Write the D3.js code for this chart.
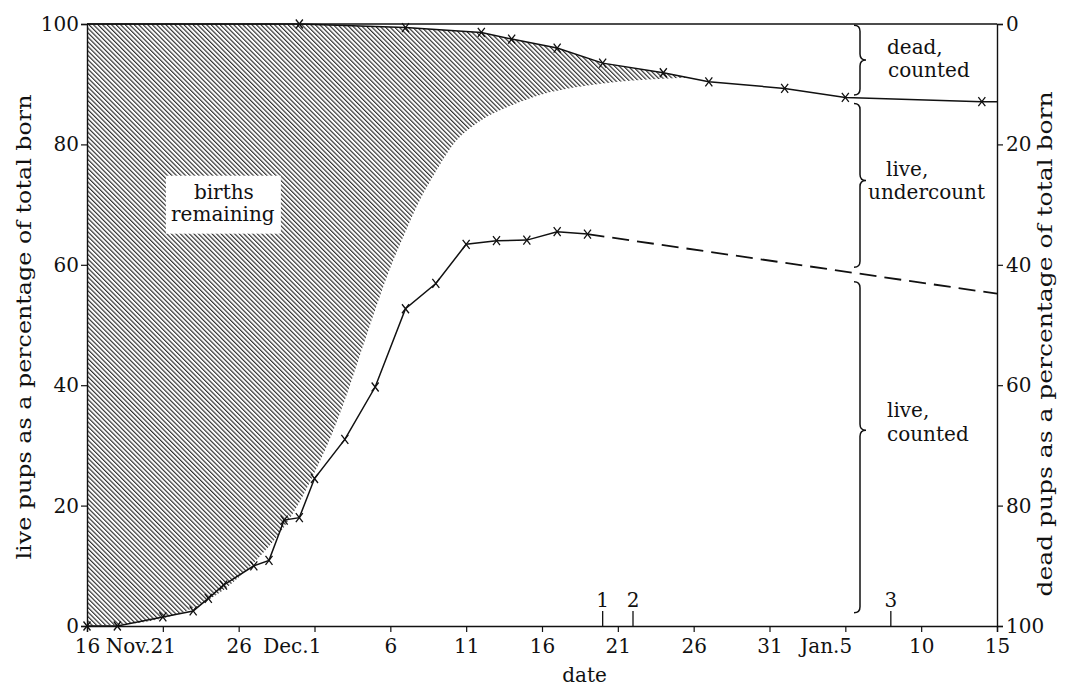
<!DOCTYPE html>
<html>
<head>
<meta charset="utf-8">
<script src="https://cdn.jsdelivr.net/npm/d3@7"></script>
<style>
  body { margin: 0; background: #fff; }
  svg { display: block; }
  text { font-family: "DejaVu Serif", serif; fill: #111; }
</style>
</head>
<body>
<svg id="svg"></svg>
<script>
// Data (days counted from Nov. 16)
const tickDays = [0, 5, 10, 15, 20, 25, 30, 35, 40, 45, 50, 55, 60];
const tickLabels = ["16", "Nov.21", "26", "Dec.1", "6", "11", "16", "21", "26", "31", "Jan.5", "10", "15"];
const yTicks = [0, 20, 40, 60, 80, 100];

// live pups counted (% of total born)
const liveDays = [0, 2, 5, 7, 8, 9, 11, 12, 13, 14, 15, 17, 19, 21, 23, 25, 27, 29, 31, 33];
const liveValues = [0, 0, 1.5, 2.5, 4.6, 6.8, 10, 10.9, 17.6, 18, 24.5, 31, 39.7, 52.7, 56.9, 63.4, 64, 64.1, 65.5, 65.1];

// extrapolated live pups (dashed)
const dashDays = [33, 60];
const dashValues = [65.1, 55.2];

// dead pups counted (% of total born, right axis)
const deadDays = [0, 14, 21, 26, 28, 31, 34, 38, 41, 46, 50, 59, 60];
const deadValues = [0, 0, 0.6, 1.4, 2.5, 4.0, 6.5, 8.1, 9.6, 10.7, 12.2, 12.9, 12.9];

// cumulative births (% of total born), edge of hatched area
const birthDays = [0, 3, 5, 7, 9, 11, 13, 14, 15, 16, 17, 18, 19, 20, 21, 22, 23, 24, 26, 28, 30, 32, 34, 36, 38, 40, 42];
const birthValues = [0, 0.4, 1.3, 3, 6, 10.5, 16.5, 20.5, 25.5, 31, 37.5, 45, 52.5, 59.5, 65.5, 71, 75.5, 79.5, 84, 86.5, 88.3, 89.4, 90.1, 90.6, 90.9, 91.1, 91.3];

// census markers
const markerDays = [34, 36, 53];
const markerLabels = ["1", "2", "3"];

// right-hand brackets
const braceLabels = [["dead,", "counted"], ["live,", "undercount"], ["live,", "counted"]];

const width = 1065, height = 689;
const margin = { left: 87, right: 68, top: 24, bottom: 63 };
const FONT = "DejaVu Serif";

const svg = d3.select("#svg").attr("width", width).attr("height", height);

const x = d3.scaleLinear().domain([0, 60]).range([margin.left, width - margin.right]);
const y = d3.scaleLinear().domain([0, 100]).range([height - margin.bottom, margin.top]);
const yDead = d3.scaleLinear().domain([0, 100]).range([margin.top, height - margin.bottom]);

const live = liveDays.map((d, i) => ({ d: d, v: liveValues[i] }));
const dash = dashDays.map((d, i) => ({ d: d, v: dashValues[i] }));
const dead = deadDays.map((d, i) => ({ d: d, v: 100 - deadValues[i] }));
const births = birthDays.map((d, i) => ({ d: d, v: birthValues[i] }));

function label(sel) {
    return sel.attr("font-family", FONT).attr("font-size", 20).attr("fill", "#111");
}

// hatch pattern
const defs = svg.append("defs");
defs.append("pattern")
    .attr("id", "hatch")
    .attr("patternUnits", "userSpaceOnUse")
    .attr("width", 3.2)
    .attr("height", 10)
    .attr("patternTransform", "rotate(-45)")
    .append("line")
    .attr("x1", 0.6).attr("y1", 0).attr("x2", 0.6).attr("y2", 10)
    .attr("stroke", "#222").attr("stroke-width", 1.1);

// clip: everything above the births curve
defs.append("clipPath").attr("id", "aboveBirths")
    .append("path")
    .attr("d", d3.area()
        .x(p => x(p.d))
        .y0(p => y(p.v))
        .y1(y(100) - 5)
        .curve(d3.curveMonotoneX)(births));

svg.append("path")
    .attr("d", d3.area()
        .x(p => x(p.d))
        .y0(y(0))
        .y1(p => y(p.v))(dead))
    .attr("fill", "url(#hatch)")
    .attr("clip-path", "url(#aboveBirths)");

// label box inside hatching
const labelBox = svg.append("g");
labelBox.append("rect")
    .attr("x", x(5.2)).attr("y", y(74.8))
    .attr("width", 115).attr("height", 58)
    .attr("fill", "#fff");
label(labelBox.append("text"))
    .attr("x", x(5.2) + 58).attr("y", y(71))
    .attr("text-anchor", "middle")
    .text("births");
label(labelBox.append("text"))
    .attr("x", x(5.2) + 57).attr("y", y(67.2))
    .attr("text-anchor", "middle")
    .text("remaining");

// frame: top line
svg.append("line")
    .attr("x1", x(0)).attr("x2", x(60))
    .attr("y1", y(100)).attr("y2", y(100))
    .attr("stroke", "#111").attr("stroke-width", 1.3);

// axes
const xAxis = d3.axisBottom(x)
    .tickValues(tickDays)
    .tickSize(6)
    .tickPadding(7)
    .tickFormat((d, i) => tickLabels[i]);

const gx = svg.append("g")
    .attr("transform", `translate(0,${y(0)})`)
    .call(xAxis);

// keep the day number centred on its tick when a month name is in front
gx.selectAll(".tick text").each(function (d, i) {
    const lab = tickLabels[i];
    const m = lab.match(/^([A-Za-z]+\.)(\d+)$/);
    if (m) {
        const t = d3.select(this);
        t.text(null).attr("text-anchor", "end");
        t.append("tspan").text(m[1]);
        t.append("tspan").text(m[2]);
        const numW = m[2].length * 12.7;
        t.attr("x", numW / 2);
    }
});

const gyl = svg.append("g")
    .attr("transform", `translate(${x(0)},0)`)
    .call(d3.axisLeft(y).tickValues(yTicks).tickSize(6).tickPadding(2));

const gyr = svg.append("g")
    .attr("transform", `translate(${x(60)},0)`)
    .call(d3.axisRight(yDead).tickValues(yTicks).tickSize(6).tickPadding(3));

[gx, gyl, gyr].forEach(g => {
    g.selectAll("path.domain").attr("stroke", "#111").attr("stroke-width", 1.4);
    g.selectAll(".tick line").attr("stroke", "#111").attr("stroke-width", 1.2);
    label(g.selectAll(".tick text"));
});

// axis titles
label(svg.append("text"))
    .attr("transform", `translate(31,327) rotate(-90)`)
    .attr("text-anchor", "middle")
    .attr("textLength", 465).attr("lengthAdjust", "spacingAndGlyphs")
    .text("live pups as a percentage of total born");

label(svg.append("text"))
    .attr("transform", `translate(1052,344) rotate(-90)`)
    .attr("text-anchor", "middle")
    .attr("textLength", 505).attr("lengthAdjust", "spacingAndGlyphs")
    .text("dead pups as a percentage of total born");

label(svg.append("text"))
    .attr("x", x(32.8)).attr("y", 682)
    .attr("text-anchor", "middle")
    .text("date");

// lines
const line = d3.line().x(p => x(p.d)).y(p => y(p.v));

svg.append("path").attr("d", line(dead))
    .attr("fill", "none").attr("stroke", "#111").attr("stroke-width", 1.5);

svg.append("path").attr("d", line(live))
    .attr("fill", "none").attr("stroke", "#111").attr("stroke-width", 1.5);

svg.append("path").attr("d", line(dash))
    .attr("fill", "none").attr("stroke", "#111").attr("stroke-width", 1.8)
    .attr("stroke-dasharray", "17,8");

// x markers
function crosses(data) {
    svg.append("g").selectAll("path")
        .data(data)
        .enter()
        .append("path")
        .attr("d", p => {
            const cx = x(p.d), cy = y(p.v);
            return `M${cx - 3.5},${cy - 4.5}L${cx + 3.5},${cy + 4.5}M${cx + 3.5},${cy - 4.5}L${cx - 3.5},${cy + 4.5}`;
        })
        .attr("stroke", "#111").attr("stroke-width", 1.3).attr("fill", "none");
}
crosses(live);
crosses(dead.filter(p => p.d > 0 && p.d < 60));

// census markers on the date axis
const mk = svg.append("g").selectAll("g")
    .data(markerDays)
    .enter()
    .append("g")
    .attr("transform", d => `translate(${x(d)},${y(0)})`);
mk.append("line").attr("y1", 0).attr("y2", -15)
    .attr("stroke", "#111").attr("stroke-width", 1.3);
label(mk.append("text")).attr("y", -19)
    .attr("text-anchor", "middle")
    .text((d, i) => markerLabels[i]);

// braces on the right
function brace(x0, y1, ym, y2, r) {
    return `M${x0 - r},${y1} Q${x0},${y1} ${x0},${y1 + r} L${x0},${ym - r} Q${x0},${ym} ${x0 + r},${ym}` +
        ` Q${x0},${ym} ${x0},${ym + r} L${x0},${y2 - r} Q${x0},${y2} ${x0 - r},${y2}`;
}
const braceSpans = [
    { top: y(99.8), mid: y(94), bot: y(88.2), tx: [887, 888], ty: [54, 77] },
    { top: y(86.8), mid: y(74), bot: y(59.6), tx: [886, 868], ty: [176, 199] },
    { top: y(57.2), mid: y(32.5), bot: y(2.2), tx: [887, 887], ty: [417, 441] }
];
braceSpans.forEach((b, i) => {
    svg.append("path")
        .attr("d", brace(860, b.top, b.mid, b.bot, 6))
        .attr("fill", "none").attr("stroke", "#111").attr("stroke-width", 1.5);
    braceLabels[i].forEach((s, j) => {
        label(svg.append("text"))
            .attr("x", b.tx[j]).attr("y", b.ty[j])
            .text(s);
    });
});
</script>
</body>
</html>
